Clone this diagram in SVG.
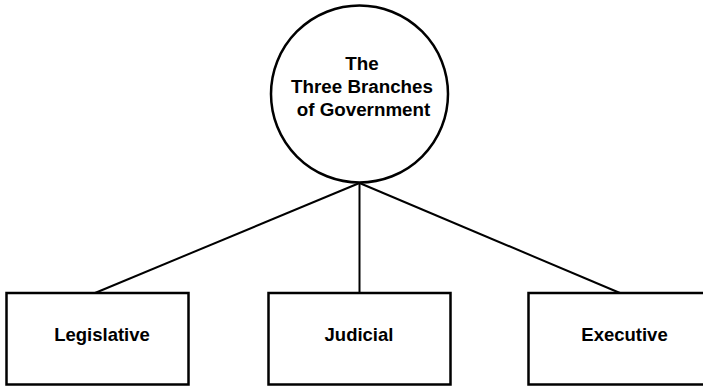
<svg xmlns="http://www.w3.org/2000/svg" width="703" height="386" viewBox="0 0 703 386">
<style>
.shape{fill:#fff;stroke:#000;stroke-width:2.5}
.edge{stroke:#000;stroke-width:2;fill:none}
.t{font-family:"Liberation Sans",Arial,sans-serif;font-weight:bold;font-size:18.8px;fill:#000;text-anchor:middle}
.b{font-size:18.5px}
</style>
<rect width="703" height="386" fill="#fff"/>
<g id="connectors">
<line class="edge" x1="359.5" y1="183" x2="95" y2="293"/>
<line class="edge" x1="359.5" y1="183" x2="359.5" y2="293"/>
<line class="edge" x1="359.5" y1="183" x2="620" y2="293"/>
</g>
<g id="root">
<circle class="shape" cx="359.5" cy="94" r="88.5"/>
<text class="t" x="362" y="70">The</text>
<text class="t" x="362" y="93">Three Branches</text>
<text class="t" x="363.5" y="116">of Government</text>
</g>
<g id="legislative">
<rect class="shape" x="6.5" y="293" width="182" height="91.5"/>
<text class="t b" x="102" y="341">Legislative</text>
</g>
<g id="judicial">
<rect class="shape" x="268.5" y="293" width="182" height="91.5"/>
<text class="t b" x="359" y="341">Judicial</text>
</g>
<g id="executive">
<rect class="shape" x="528.5" y="293" width="182" height="91.5"/>
<text class="t b" x="624.5" y="341">Executive</text>
</g>
</svg>
